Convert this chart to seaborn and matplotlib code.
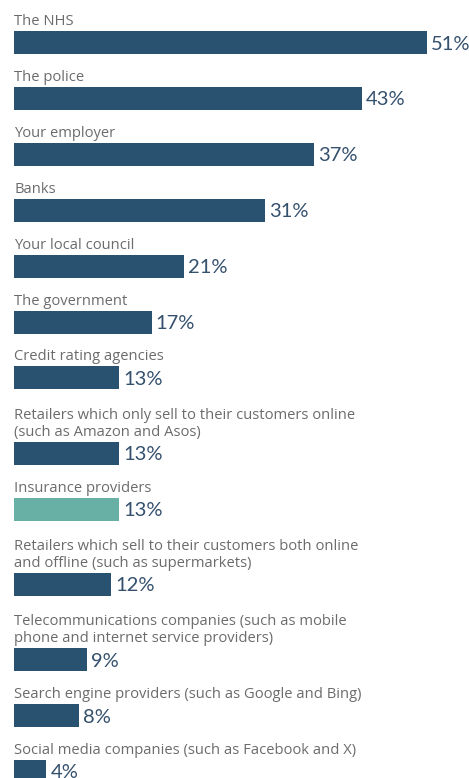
import numpy as np
import pandas as pd
import matplotlib
matplotlib.use("Agg")
import matplotlib.pyplot as plt
import seaborn as sns

labels = [
    "The NHS",
    "The police",
    "Your employer",
    "Banks",
    "Your local council",
    "The government",
    "Credit rating agencies",
    "Retailers which only sell to their customers online\n(such as Amazon and Asos)",
    "Insurance providers",
    "Retailers which sell to their customers both online\nand offline (such as supermarkets)",
    "Telecommunications companies (such as mobile\nphone and internet service providers)",
    "Search engine providers (such as Google and Bing)",
    "Social media companies (such as Facebook and X)",
]
values = [51, 43, 37, 31, 21, 17, 13, 13, 13, 12, 9, 8, 4]
highlighted = "Insurance providers"

BLUE = "#285270"
TEAL = "#68b0a6"
LABEL_GREY = "#6b6b6b"
VALUE_BLUE = "#34506d"

W, H, DPI = 469, 778, 100
sns.set_theme(style="white")
plt.rcParams["font.family"] = ["Open Sans", "DejaVu Sans"]

# vertical layout in pixels: each row is its label block followed by a bar
bar_px = 23
n_lines = [lab.count("\n") + 1 for lab in labels]
tops = []
top = 31.0
for i, n in enumerate(n_lines):
    if i > 0:
        top += 36.5 + 19.4 * n
    tops.append(top)
tops = np.array(tops)
centers = tops + bar_px / 2

df = pd.DataFrame({
    "label": labels,
    "value": values,
    "pos": centers,
    "group": ["highlight" if l == highlighted else "base" for l in labels],
})

fig = plt.figure(figsize=(W / DPI, H / DPI), dpi=DPI)
ax = fig.add_axes([0, 0, 1, 1])

px_per_unit = (427 - 14) / 51.0
sns.barplot(
    data=df, x="value", y="pos", hue="group", orient="h", native_scale=True,
    palette={"base": BLUE, "highlight": TEAL}, width=bar_px / np.min(np.diff(centers)),
    legend=False, saturation=1, dodge=False, ax=ax, linewidth=0,
)
ax.set_xlim(-14 / px_per_unit, (W - 14) / px_per_unit)
ax.set_ylim(H, 0)

for lab, val, t, c in zip(labels, values, tops, centers):
    ax.text(0, t - 6, lab, ha="left", va="baseline", fontsize=10.6,
            color=LABEL_GREY, linespacing=1.2)
    ax.text(val + 4 / px_per_unit, c + 7, f"{val}%", ha="left", va="baseline",
            fontsize=14.5, color=VALUE_BLUE, family=["Lato", "DejaVu Sans"])

ax.axis("off")
fig.savefig("out.png", dpi=DPI, facecolor="white")
